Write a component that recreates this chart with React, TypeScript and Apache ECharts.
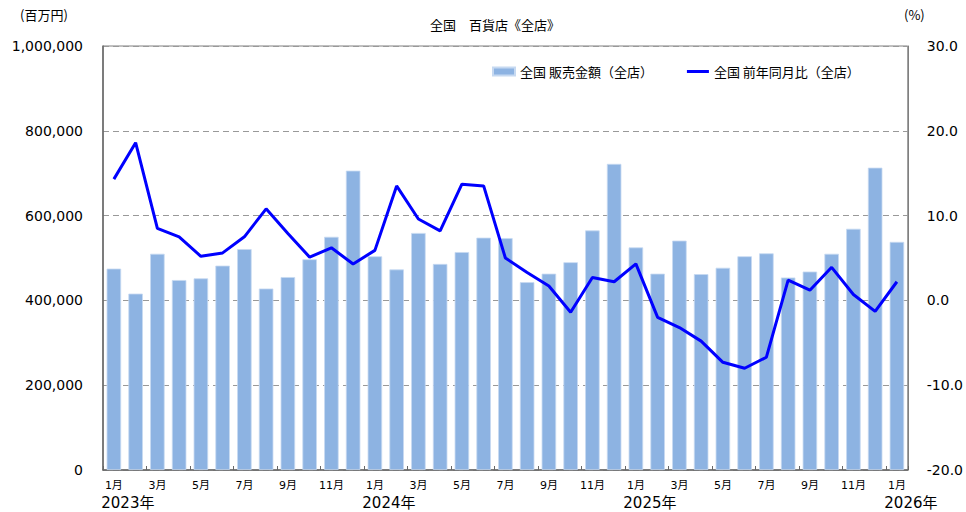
import React, { useEffect, useRef } from "react";
import * as echarts from "echarts";

const categories = [
  "2023/1", "2023/2", "2023/3", "2023/4", "2023/5", "2023/6", "2023/7", "2023/8", "2023/9", "2023/10", "2023/11", "2023/12",
  "2024/1", "2024/2", "2024/3", "2024/4", "2024/5", "2024/6", "2024/7", "2024/8", "2024/9", "2024/10", "2024/11", "2024/12",
  "2025/1", "2025/2", "2025/3", "2025/4", "2025/5", "2025/6", "2025/7", "2025/8", "2025/9", "2025/10", "2025/11", "2025/12",
  "2026/1",
];

// 全国 販売金額（全店）(百万円)
const sales = [
  475000, 416000, 510000, 448000, 452000, 482000, 521000, 428000, 455000, 497000, 550000, 706000,
  504000, 473000, 559000, 486000, 514000, 548000, 547000, 443000, 463000, 490000, 565000, 722000,
  525000, 463000, 541000, 462000, 477000, 504000, 511000, 454000, 468000, 510000, 569000, 713000,
  538000,
];

// 全国 前年同月比（全店）(%)
const yoy = [
  14.3, 18.6, 8.5, 7.5, 5.2, 5.6, 7.5, 10.8, 7.9, 5.1, 6.2, 4.3,
  5.9, 13.5, 9.6, 8.2, 13.7, 13.5, 5.0, 3.3, 1.7, -1.4, 2.7, 2.2,
  4.3, -2.0, -3.2, -4.8, -7.3, -8.0, -6.7, 2.4, 1.2, 3.9, 0.7, -1.3,
  2.2,
];

const titleText = "全国　百貨店《全店》";
const seriesNames = ["全国 販売金額（全店）", "全国 前年同月比（全店）"];
const leftUnit = "(百万円)";
const rightUnit = "(%)";

const JP = "'Noto Sans CJK JP', 'Noto Sans', sans-serif";
const NUM = "'DejaVu Sans', Verdana, sans-serif";
const NUMJP = "'DejaVu Sans', 'Noto Sans CJK JP', sans-serif";

export default function App() {
  const ref = useRef<HTMLDivElement>(null);
  useEffect(() => {
    if (!ref.current) return;
    const chart = echarts.init(ref.current, null, { renderer: "svg" });
    chart.setOption({
      animation: false,
      backgroundColor: "#ffffff",
      title: {
        text: titleText,
        left: 490,
        top: 13,
        textAlign: "center",
        textStyle: { fontFamily: JP, fontSize: 13, fontWeight: "normal", color: "#000" },
      },
      graphic: [
        {
          type: "text",
          left: 20,
          top: 8,
          style: { text: leftUnit, font: `13px ${JP}`, fill: "#000" },
        },
        {
          type: "text",
          left: 904,
          top: 8,
          style: { text: rightUnit, font: `13px ${JP}`, fill: "#000" },
        },
      ],
      legend: {
        left: 487,
        top: 60,
        itemWidth: 22,
        itemHeight: 8,
        itemGap: 34,
        textStyle: { fontFamily: JP, fontSize: 13, color: "#000" },
        data: [
          { name: seriesNames[0], icon: "rect" },
          { name: seriesNames[1], icon: "path://M0,0 L22,0 L22,3 L0,3 Z" },
        ],
      },
      grid: {
        left: 103,
        right: 57,
        top: 46,
        bottom: 42,
        show: true,
        borderColor: "#808080",
        borderWidth: 1,
      },
      xAxis: [
        {
          type: "category",
          data: categories,
          position: "bottom",
          axisLine: { lineStyle: { color: "#666", width: 1.5 } },
          axisTick: { show: true, inside: true, length: 4, lineStyle: { color: "#666" } },
          axisLabel: {
            interval: 1,
            margin: 10,
            fontFamily: NUMJP,
            fontSize: 11,
            color: "#000",
            formatter: (v: string) => `${v.split("/")[1]}月`,
          },
        },
        {
          type: "category",
          data: categories,
          position: "bottom",
          offset: 0,
          axisLine: { show: false },
          axisTick: { show: false },
          axisLabel: {
            interval: 0,
            margin: 25,
            fontFamily: NUMJP,
            fontSize: 15,
            color: "#000",
            padding: [0, 0, 0, 28],
            formatter: (v: string) => {
              const [y, m] = v.split("/");
              return m === "1" ? `${y}年` : "";
            },
          },
        },
      ],
      yAxis: [
        {
          type: "value",
          min: 0,
          max: 1000000,
          interval: 200000,
          axisLine: { show: true, lineStyle: { color: "#666", width: 1.5 } },
          axisTick: { show: false },
          axisLabel: {
            margin: 20,
            fontFamily: NUM,
            fontSize: 14,
            color: "#000",
            formatter: (v: number) => v.toLocaleString("en-US"),
          },
          splitLine: { show: true, lineStyle: { color: "#999", type: [6, 4], width: 1.2 } },
        },
        {
          type: "value",
          min: -20,
          max: 30,
          interval: 10,
          position: "right",
          axisLine: { show: true, lineStyle: { color: "#808080" } },
          axisTick: { show: false },
          axisLabel: {
            margin: 19,
            fontFamily: NUM,
            fontSize: 14,
            color: "#000",
            formatter: (v: number) => v.toFixed(1),
          },
          splitLine: { show: false },
        },
      ],
      series: [
        {
          name: seriesNames[0],
          type: "bar",
          data: sales,
          xAxisIndex: 0,
          yAxisIndex: 0,
          barWidth: 14.5,
          itemStyle: { color: "#8DB3E2", borderColor: "#C6D9F1", borderWidth: 0.8 },
        },
        {
          name: seriesNames[1],
          type: "line",
          data: yoy,
          xAxisIndex: 0,
          yAxisIndex: 1,
          symbol: "none",
          lineStyle: { color: "#0000FF", width: 3 },
          itemStyle: { color: "#0000FF" },
          z: 5,
        },
      ],
    });
    return () => chart.dispose();
  }, []);
  return (
    <div
      ref={ref}
      style={{ position: "fixed", left: 0, top: 0, width: 966, height: 512 }}
    />
  );
}
